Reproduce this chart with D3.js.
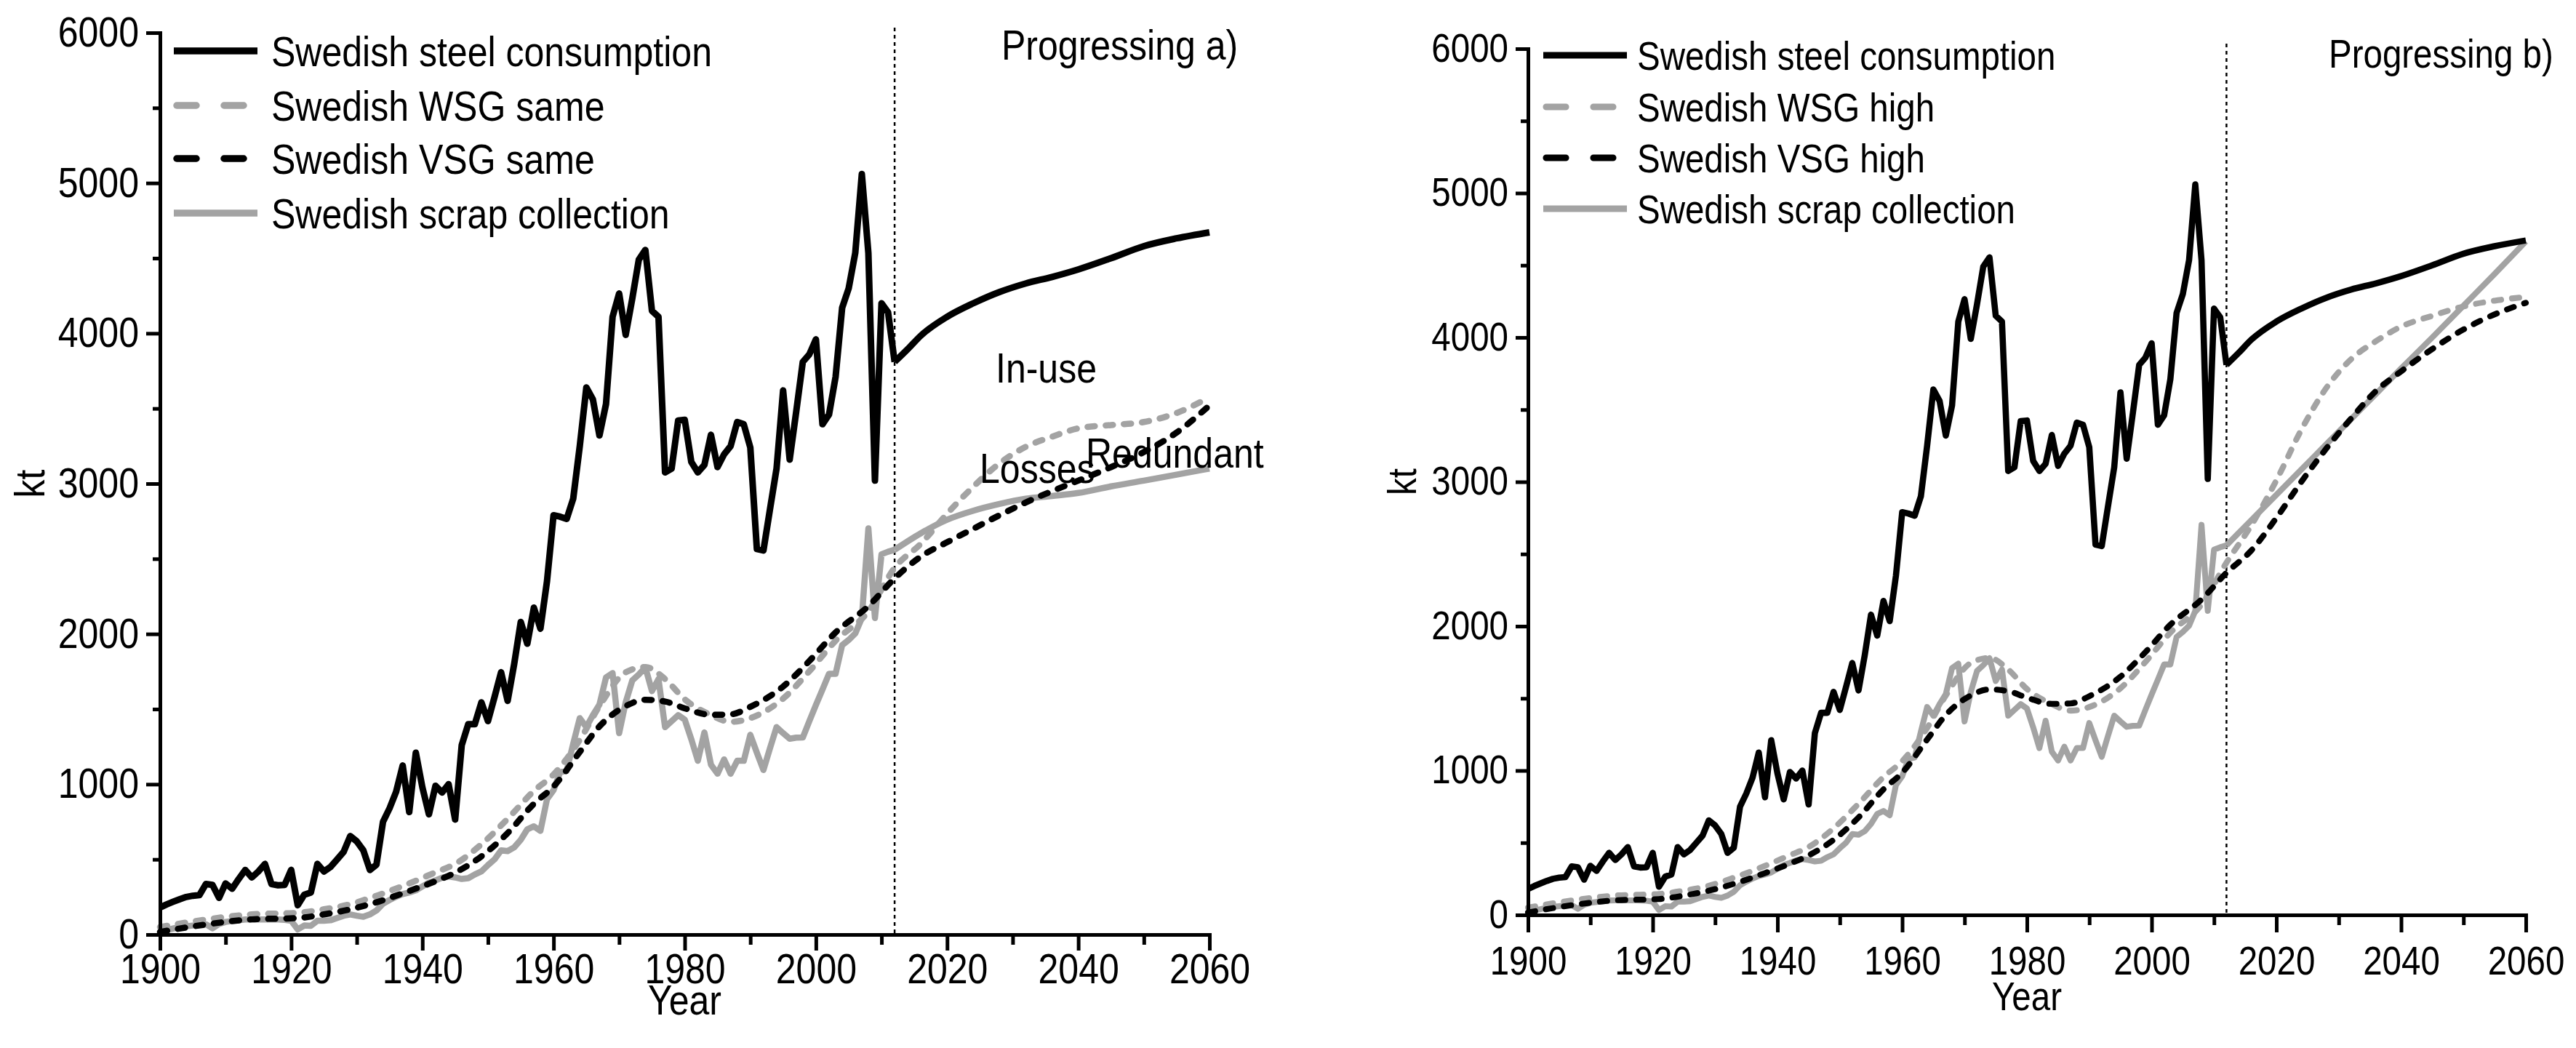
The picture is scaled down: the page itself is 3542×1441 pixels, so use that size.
<!DOCTYPE html>
<html>
<head>
<meta charset="utf-8">
<script src="https://cdn.jsdelivr.net/npm/d3@7"></script>
<style>
  body { margin: 0; background: #fff; }
  svg { display: block; }
</style>
</head>
<body>
<div id="grafico"></div>
<script>
// Datos historicos (anuales, 1900-2012)
const anios = d3.range(1900, 2013);

const consumoHist = [
  180, 200, 218, 235, 250, 258, 262, 336, 330, 244,
  340, 305, 370, 430, 380, 420, 470, 336, 328, 330,
  430, 195, 265, 280, 470, 420, 450, 500, 550, 655,
  620, 560, 430, 465, 750, 840, 950, 1125, 815, 1210,
  980, 800, 990, 945, 1000, 765, 1260, 1400, 1400, 1545,
  1420, 1580, 1745, 1555, 1800, 2080, 1935, 2175, 2035, 2350,
  2790, 2780, 2765, 2900, 3250, 3640, 3560, 3320, 3530, 4110,
  4265, 3990, 4230, 4490, 4555, 4150, 4110, 3075, 3100, 3420,
  3425, 3145, 3075, 3125, 3325, 3110, 3195, 3250, 3410, 3395,
  3240, 2565, 2555, 2830, 3100, 3620, 3160, 3480, 3810, 3860,
  3960, 3395, 3460, 3710, 4170, 4300, 4535, 5060, 4535, 3020,
  4200, 4140, 3810
];

const chatarraHist = [
  20, 30, 40, 50, 55, 60, 65, 68, 42, 70,
  84, 90, 95, 100, 101, 101, 101, 101, 100, 98,
  92, 34, 60, 58, 92, 92, 95, 110, 125, 134,
  125, 118, 134, 160, 205, 230, 252, 269, 280, 294,
  320, 345, 360, 378, 387, 380, 370, 375, 400, 420,
  462, 500, 560, 555, 580, 630, 700, 720, 690, 900,
  960, 1080, 1090, 1270, 1440, 1380, 1460, 1530, 1710, 1740,
  1340, 1545, 1690, 1730, 1778, 1620, 1700, 1380, 1420, 1460,
  1430, 1300, 1156, 1345, 1130, 1070, 1165, 1070, 1156, 1156,
  1329, 1210, 1095, 1240, 1380, 1340, 1303, 1310, 1311, 1420,
  1527, 1630, 1735, 1735, 1925, 1960, 2003, 2106, 2702, 2106,
  2530, 2547, 2560
];

// Curvas suaves WSG / VSG (historico)
const aniosSuave = [1900, 1907, 1914, 1921, 1925, 1929, 1933, 1938, 1942, 1945,
  1949, 1953, 1957, 1960, 1964, 1967, 1971, 1974, 1977, 1980,
  1984, 1987, 1990, 1995, 1999, 2003, 2008, 2012];
const wsgHist = [50, 100, 134, 145, 168, 202, 258, 340, 414, 470,
  600, 770, 955, 1065, 1295, 1520, 1745, 1780, 1700, 1565,
  1460, 1415, 1440, 1570, 1752, 1955, 2150, 2440];
const vsgHist = [17, 67, 101, 110, 134, 168, 215, 290, 355, 412,
  520, 675, 870, 985, 1215, 1385, 1520, 1562, 1550, 1505,
  1462, 1465, 1515, 1650, 1820, 2010, 2185, 2370];

// Proyecciones (2016-2060)
const aniosFuturo = [2016, 2020, 2024, 2028, 2032, 2036, 2040, 2045, 2050, 2055, 2060];
const wsgMismo = [2600, 2800, 2980, 3135, 3245, 3312, 3368, 3390, 3410, 3470, 3575];
const vsgMismo = [2515, 2610, 2700, 2790, 2875, 2950, 3020, 3110, 3210, 3340, 3520];
const wsgAlto = [2700, 3010, 3360, 3650, 3850, 3975, 4075, 4150, 4215, 4255, 4280];
const vsgAlto = [2525, 2750, 3000, 3230, 3440, 3630, 3765, 3920, 4055, 4160, 4240];
const chatarraMismo = [2670, 2760, 2820, 2865, 2900, 2918, 2938, 2982, 3020, 3060, 3100];
const chatarraAlto = [2735, 2910, 3085, 3260, 3435, 3610, 3785, 4000, 4220, 4440, 4665];

const aniosConsumoFut = [2012, 2014, 2016, 2020, 2024, 2028, 2032, 2036, 2040, 2045, 2050, 2055, 2060];
const consumoFut = [3810, 3895, 3985, 4110, 4200, 4275, 4332, 4375, 4425, 4500, 4580, 4632, 4672];

// Ejes
const ticksX = [1900, 1920, 1940, 1960, 1980, 2000, 2020, 2040, 2060];
const ticksXmenor = [1910, 1930, 1950, 1970, 1990, 2010, 2030, 2050];
const ticksY = [0, 1000, 2000, 3000, 4000, 5000, 6000];
const ticksYmenor = [500, 1500, 2500, 3500, 4500, 5500];

const leyendaA = ['Swedish steel consumption', 'Swedish WSG same', 'Swedish VSG same', 'Swedish scrap collection'];
const leyendaB = ['Swedish steel consumption', 'Swedish WSG high', 'Swedish VSG high', 'Swedish scrap collection'];

const W = 3542, H = 1441;
const gris = '#a3a3a3';
const fuente = "'Liberation Sans', Arial, sans-serif";
const sx = 0.87; // letra estrecha

const svg = d3.select('#grafico')
  .append('svg')
  .attr('width', W)
  .attr('height', H);

function texto(g, x, y, str, fs, anchor, rot) {
  g.append('text')
    .attr('transform', 'translate(' + x + ',' + y + ')' + (rot ? ' rotate(' + rot + ')' : '') + ' scale(' + sx + ',1)')
    .attr('text-anchor', anchor || 'start')
    .attr('font-size', fs)
    .attr('font-family', fuente)
    .attr('fill', '#000')
    .text(str);
}

function dibujarPanel(p) {
  const x = d3.scaleLinear().domain([1900, 2060]).range([p.left, p.right]);
  const y = d3.scaleLinear().domain([0, 6000]).range([p.bottom, p.top]);
  const g = svg.append('g');

  const recta = d3.line().x(d => x(d[0])).y(d => y(d[1]));
  const curva = d3.line().x(d => x(d[0])).y(d => y(d[1])).curve(d3.curveMonotoneX);

  const hist = (vals) => anios.map((a, i) => [a, vals[i]]);
  const suave = (h, f) => aniosSuave.map((a, i) => [a, h[i]]).concat(aniosFuturo.map((a, i) => [a, f[i]]));

  // Linea punteada 2012
  g.append('line')
    .attr('x1', x(2012)).attr('x2', x(2012))
    .attr('y1', p.top - 7).attr('y2', p.bottom)
    .attr('stroke', '#000')
    .attr('stroke-width', 2.5)
    .attr('stroke-dasharray', '5,5');

  const lw = 8.5 * p.k;

  // Chatarra (gris solida)
  g.append('path').datum(hist(chatarraHist))
    .attr('fill', 'none').attr('stroke', gris).attr('stroke-width', lw)
    .attr('stroke-linejoin', 'round').attr('d', recta);
  g.append('path').datum([[2012, chatarraHist[112]]].concat(aniosFuturo.map((a, i) => [a, p.chatarra[i]])))
    .attr('fill', 'none').attr('stroke', gris).attr('stroke-width', lw)
    .attr('stroke-linejoin', 'round').attr('d', curva);

  // WSG (gris discontinua)
  g.append('path').datum(suave(wsgHist, p.wsg))
    .attr('fill', 'none').attr('stroke', gris).attr('stroke-width', lw)
    .attr('stroke-linecap', 'round').attr('stroke-dasharray', '10,15').attr('d', curva);

  // VSG (negra discontinua)
  g.append('path').datum(suave(vsgHist, p.vsg))
    .attr('fill', 'none').attr('stroke', '#000').attr('stroke-width', lw)
    .attr('stroke-linecap', 'round').attr('stroke-dasharray', '10,15').attr('d', curva);

  // Consumo (negra solida)
  g.append('path').datum(hist(consumoHist))
    .attr('fill', 'none').attr('stroke', '#000').attr('stroke-width', lw + 0.5)
    .attr('stroke-linejoin', 'round').attr('d', recta);
  g.append('path').datum(aniosConsumoFut.map((a, i) => [a, consumoFut[i]]))
    .attr('fill', 'none').attr('stroke', '#000').attr('stroke-width', lw + 0.5)
    .attr('stroke-linejoin', 'round').attr('d', curva);

  // Eje X
  const gx = g.append('g')
    .attr('transform', 'translate(0,' + p.bottom + ')')
    .call(d3.axisBottom(x).tickValues(ticksX).tickSizeInner(p.tx).tickSizeOuter(0)
      .tickPadding(p.px).tickFormat(d3.format('d')));
  gx.attr('font-size', p.fs).attr('font-family', fuente);
  gx.selectAll('text').attr('transform', 'scale(' + sx + ',1)');
  g.append('g')
    .attr('transform', 'translate(0,' + p.bottom + ')')
    .call(d3.axisBottom(x).tickValues(ticksXmenor).tickSize(14).tickFormat(''))
    .call(s => s.select('.domain').remove());

  // Eje Y
  const gy = g.append('g')
    .attr('transform', 'translate(' + p.left + ',0)')
    .call(d3.axisLeft(y).tickValues(ticksY).tickSizeInner(p.ty).tickSizeOuter(0)
      .tickPadding(p.py).tickFormat(d3.format('d')));
  gy.attr('font-size', p.fs).attr('font-family', fuente);
  gy.selectAll('text')
    .attr('x', -(p.ty + p.py) / sx)
    .attr('transform', 'scale(' + sx + ',1)');
  g.append('g')
    .attr('transform', 'translate(' + p.left + ',0)')
    .call(d3.axisLeft(y).tickValues(ticksYmenor).tickSize(10).tickFormat(''))
    .call(s => s.select('.domain').remove());

  g.selectAll('.domain').attr('stroke-width', 5).attr('stroke-linecap', 'square');
  g.selectAll('.tick line').attr('stroke-width', 5);

  // Titulos de ejes
  texto(g, (p.left + p.right) / 2, p.yearY, 'Year', p.fs, 'middle');
  texto(g, p.ktX, (p.top + p.bottom) / 2, 'kt', p.fs, 'middle', -90);

  // Leyenda
  const estilos = [
    { c: '#000', d: null },
    { c: gris, d: '27,38' },
    { c: '#000', d: '27,38' },
    { c: gris, d: null }
  ];
  p.leyenda.forEach(function (lab, i) {
    const yy = p.filas[i];
    const l = g.append('line')
      .attr('x1', p.lx1 + (estilos[i].d ? 4 : 0)).attr('x2', p.lx2)
      .attr('y1', yy).attr('y2', yy)
      .attr('stroke', estilos[i].c)
      .attr('stroke-width', lw + 1);
    if (estilos[i].d) l.attr('stroke-dasharray', estilos[i].d).attr('stroke-linecap', 'round');
    texto(g, p.ltx, yy + 0.36 * p.fs, lab, p.fs, 'start');
  });

  // Titulo del escenario
  texto(g, p.titulo[0], p.titulo[1], p.titulo[2], p.fs, 'start');

  // Anotaciones
  p.notas.forEach(n => texto(g, n[0], n[1], n[2], p.fs, 'start'));
}

dibujarPanel({
  left: 220, right: 1663, bottom: 1285, top: 45, k: 1, fs: 57.5,
  tx: 22, px: 4, ty: 19, py: 10,
  yearY: 1395, ktX: 61,
  chatarra: chatarraMismo, wsg: wsgMismo, vsg: vsgMismo,
  leyenda: leyendaA, filas: [70, 145, 218, 293], lx1: 239, lx2: 354, ltx: 373,
  titulo: [1377, 82, 'Progressing a)'],
  notas: [[1369, 526, 'In-use'], [1347, 664, 'Losses'], [1493, 643, 'Redundant']]
});

dibujarPanel({
  left: 2101, right: 3473, bottom: 1258, top: 67, k: 0.95, fs: 54.6,
  tx: 24, px: 19, ty: 17, py: 10,
  yearY: 1389, ktX: 1947,
  chatarra: chatarraAlto, wsg: wsgAlto, vsg: vsgAlto,
  leyenda: leyendaB, filas: [76, 147, 217, 287], lx1: 2122, lx2: 2237, ltx: 2251,
  titulo: [3202, 93, 'Progressing b)'],
  notas: []
});
</script>
</body>
</html>
